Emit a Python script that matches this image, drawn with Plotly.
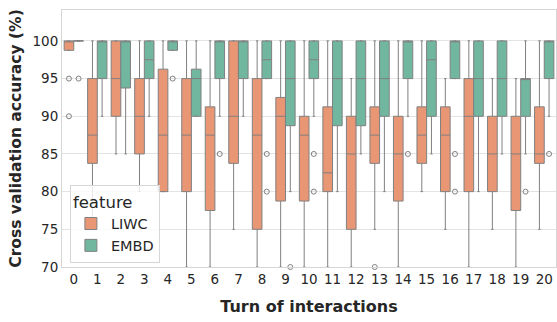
import plotly.graph_objects as go

turns = list(range(21))

# LIWC stats
liwc_lf = [98.75, 75, 85, 80, 80, 70, 70, 75, 70, 70, 70, 70, 70, 75, 70, 80, 75, 70, 75, 70, 75]
liwc_q1 = [98.75, 83.75, 90, 85, 80, 80, 77.5, 83.75, 75, 78.75, 78.75, 80, 75, 83.75, 78.75, 83.75, 80, 80, 80, 77.5, 83.75]
liwc_med = [100, 87.5, 95, 90, 87.5, 87.5, 87.5, 90, 87.5, 90, 87.5, 82.5, 85, 87.5, 85, 87.5, 87.5, 90, 85, 85, 85]
liwc_q3 = [100, 95, 100, 95, 96.25, 95, 91.25, 100, 95, 92.5, 90, 91.25, 90, 91.25, 90, 91.25, 91.25, 95, 90, 90, 91.25]
liwc_uf = [100, 100, 100, 100, 100, 100, 100, 100, 100, 100, 100, 100, 95, 100, 100, 100, 95, 100, 95, 95, 100]
liwc_out_x = [0, 0, 13]
liwc_out_y = [95, 90, 70]

# EMBD stats
embd_lf = [100, 90, 85, 90, 98.75, 90, 90, 90, 95, 80, 90, 80, 85, 80, 90, 85, 95, 80, 85, 85, 90]
embd_q1 = [100, 95, 93.75, 95, 98.75, 90, 95, 95, 95, 88.75, 95, 88.75, 88.75, 90, 95, 90, 95, 90, 90, 90, 95]
embd_med = [100, 100, 100, 97.5, 100, 95, 100, 100, 97.5, 95, 97.5, 95, 95, 95, 100, 97.5, 100, 95, 95, 95, 100]
embd_q3 = [100, 100, 100, 100, 100, 96.25, 100, 100, 100, 100, 100, 100, 100, 100, 100, 100, 100, 100, 100, 95, 100]
embd_uf = [100, 100, 100, 100, 100, 100, 100, 100, 100, 100, 100, 100, 100, 100, 100, 100, 100, 100, 100, 100, 100]
embd_out_x = [0, 4, 6, 8, 8, 9, 10, 10, 14, 16, 16, 19, 20]
embd_out_y = [95, 95, 85, 85, 80, 70, 85, 80, 85, 85, 80, 80, 85]

c_liwc = "#e99675"
c_embd = "#71b69f"
line_c = "#808080"
off = 0.205

fig = go.Figure()
fig.add_trace(go.Box(
    name="LIWC", x=turns, q1=liwc_q1, median=liwc_med, q3=liwc_q3,
    lowerfence=liwc_lf, upperfence=liwc_uf, fillcolor=c_liwc,
    line=dict(color=line_c, width=1), whiskerwidth=0.25, offsetgroup="L",
))
fig.add_trace(go.Box(
    name="EMBD", x=turns, q1=embd_q1, median=embd_med, q3=embd_q3,
    lowerfence=embd_lf, upperfence=embd_uf, fillcolor=c_embd,
    line=dict(color=line_c, width=1), whiskerwidth=0.25, offsetgroup="E",
))
fig.add_trace(go.Scatter(
    x=[v - off for v in liwc_out_x], y=liwc_out_y, mode="markers", showlegend=False,
    marker=dict(symbol="circle-open", size=5, color="#808080", line=dict(width=1)),
    cliponaxis=False,
))
fig.add_trace(go.Scatter(
    x=[v + off for v in embd_out_x], y=embd_out_y, mode="markers", showlegend=False,
    marker=dict(symbol="circle-open", size=5, color="#808080", line=dict(width=1)),
    cliponaxis=False,
))

fig.update_layout(
    width=557, height=322,
    margin=dict(l=62, r=1, t=10, b=55),
    paper_bgcolor="white", plot_bgcolor="white",
    boxmode="group", boxgap=0.18, boxgroupgap=0,
    font=dict(family="DejaVu Sans", color="#262626", size=13),
    legend=dict(
        title=dict(text="feature", font=dict(size=16.5)),
        x=0.016, y=0.015, xanchor="left", yanchor="bottom",
        bgcolor="rgba(255,255,255,0.8)", bordercolor="#d6d6d6", borderwidth=1,
        font=dict(size=14.5), tracegroupgap=2,
    ),
    xaxis=dict(
        range=[-0.5, 20.5], tickmode="array", tickvals=turns,
        ticktext=[str(t) for t in turns], showgrid=False, zeroline=False,
        showline=True, linecolor="#d6d6d6", mirror=True, ticks="",
        title=dict(text="<b>Turn of interactions</b>", font=dict(size=16), standoff=14),
        tickfont=dict(size=13.5),
    ),
    yaxis=dict(
        range=[70, 104.1], tickvals=[70, 75, 80, 85, 90, 95, 100],
        showgrid=True, gridcolor="#e3e3e3", zeroline=False,
        showline=True, linecolor="#d6d6d6", mirror=True, ticks="",
        title=dict(text="<b>Cross validation accuracy (%)</b>", font=dict(size=15.5), standoff=7),
        tickfont=dict(size=13.5),
    ),
)

fig.write_html("out.html")
